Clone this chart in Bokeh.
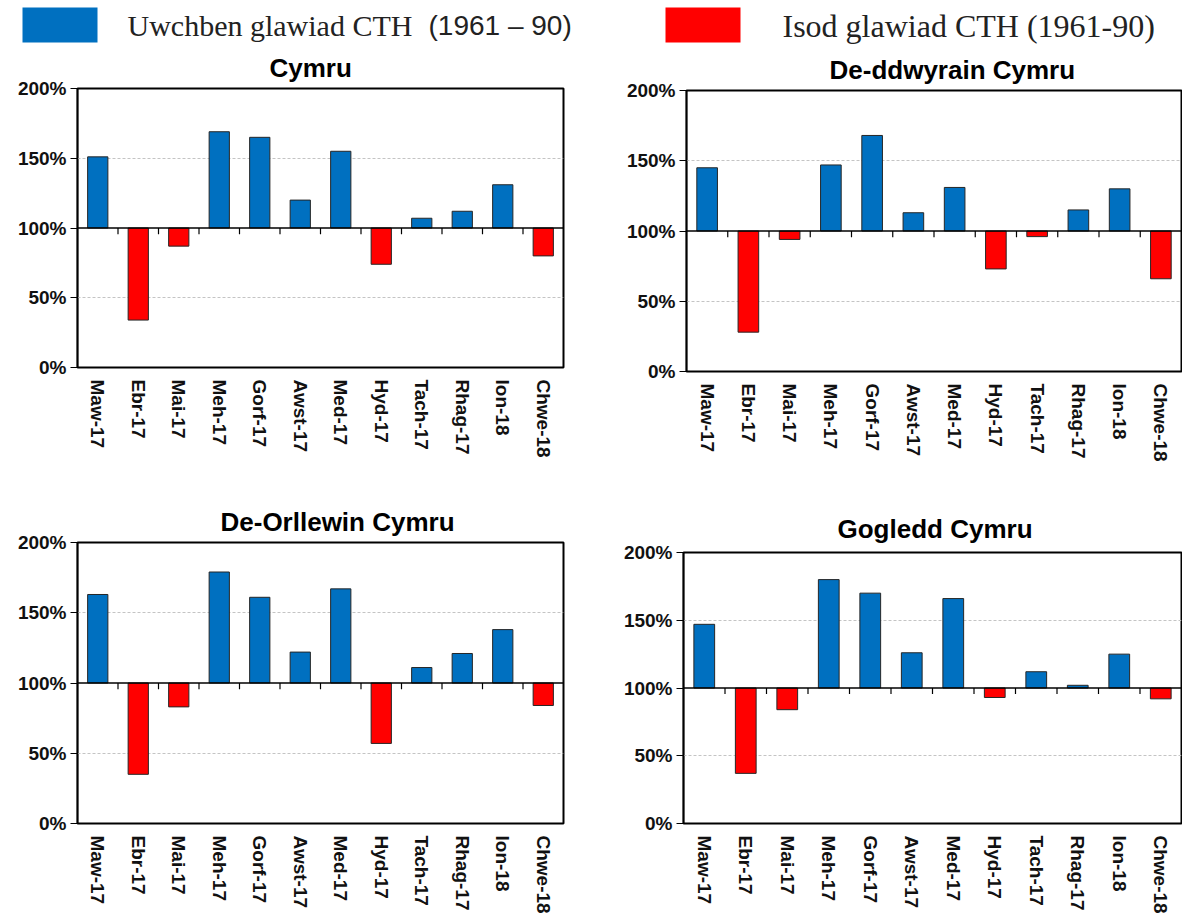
from math import pi
from bokeh.plotting import figure
from bokeh.models import Range1d, FixedTicker, Span, ColumnDataSource, PrintfTickFormatter
from bokeh.layouts import column, row
from bokeh.transform import dodge
from bokeh.core.properties import value
from bokeh.embed import file_html
from bokeh.resources import INLINE

months = ["Maw-17", "Ebr-17", "Mai-17", "Meh-17", "Gorf-17", "Awst-17",
          "Med-17", "Hyd-17", "Tach-17", "Rhag-17", "Ion-18", "Chwe-18"]

cymru = [151, 34, 87, 169, 165, 120, 155, 74, 107, 112, 131, 80]
de_ddwyrain = [145, 28, 94, 147, 168, 113, 131, 73, 96, 115, 130, 66]
de_orllewin = [163, 35, 83, 179, 161, 122, 167, 57, 111, 121, 138, 84]
gogledd = [147, 37, 84, 180, 170, 126, 166, 93, 112, 102, 125, 92]

titles = ["Cymru", "De-ddwyrain Cymru", "De-Orllewin Cymru", "Gogledd Cymru"]
legend_labels = ["Uwchben glawiad CTH", "(1961 \u2013 90)", "Isod glawiad CTH (1961-90)"]
y_ticks = [0, 50, 100, 150, 200]

BLUE = "#0070C0"
RED = "#FF0000"
SANS = "Liberation Sans"
SERIF = "Liberation Serif"


def panel(title, vals, width, height, bl, br, bt, bb, toff=0, tstand=12):
    p = figure(width=width, height=height, x_range=months, y_range=Range1d(0, 200),
               toolbar_location=None, output_backend="svg", title=title,
               min_border_left=bl, min_border_right=br, min_border_top=bt,
               min_border_bottom=bb)
    p.title.align = "left"
    p.title.offset = toff
    p.title.text_font = SANS
    p.title.text_font_style = "bold"
    p.title.text_font_size = "26px"
    p.title.text_color = "#000000"
    p.title.standoff = tstand
    p.outline_line_color = "black"
    p.outline_line_width = 2
    p.outline_line_alpha = 1
    p.background_fill_color = "white"
    p.border_fill_color = "white"

    p.xgrid.grid_line_color = None
    p.ygrid.ticker = FixedTicker(ticks=[50, 150])
    p.ygrid.grid_line_color = "#c4c4c4"
    p.ygrid.grid_line_dash = "3 2"
    p.ygrid.grid_line_width = 1

    p.yaxis.ticker = FixedTicker(ticks=y_ticks)
    p.yaxis.formatter = PrintfTickFormatter(format="%d%%")
    p.yaxis.major_label_text_font = SANS
    p.yaxis.major_label_text_font_style = "bold"
    p.yaxis.major_label_text_font_size = "19px"
    p.yaxis.major_label_text_color = "#111111"
    p.yaxis.major_tick_out = 7
    p.yaxis.major_tick_in = 0
    p.yaxis.minor_tick_line_color = None
    p.yaxis.axis_line_color = "black"
    p.yaxis.axis_line_width = 1.5
    p.yaxis.major_tick_line_color = "black"
    p.yaxis.major_label_standoff = 4

    p.xaxis.major_label_orientation = -pi / 2
    p.xaxis.major_label_text_font = SANS
    p.xaxis.major_label_text_font_style = "bold"
    p.xaxis.major_label_text_font_size = "19px"
    p.xaxis.major_label_text_color = "#111111"
    p.xaxis.major_tick_line_color = None
    p.xaxis.axis_line_color = None
    p.xaxis.major_label_standoff = 6

    colors = [BLUE if v >= 100 else RED for v in vals]
    src = ColumnDataSource(dict(x=months, top=vals, bottom=[100] * len(vals), color=colors))
    p.vbar(x="x", top="top", bottom="bottom", width=0.5, source=src,
           fill_color="color", line_color="#262626", line_width=1)

    p.add_layout(Span(location=100, dimension="width", line_color="black", line_width=1.5))

    tsrc = ColumnDataSource(dict(x=months[:-1]))
    p.segment(x0=dodge("x", 0.5, range=p.x_range), x1=dodge("x", 0.5, range=p.x_range),
              y0=100, y1=95.5, source=tsrc, line_color="black", line_width=1.2)
    return p


# Legend strip
leg = figure(width=1182, height=44, x_range=Range1d(0, 1182), y_range=Range1d(44, 0),
             toolbar_location=None, output_backend="svg", min_border=0)
leg.axis.visible = False
leg.grid.visible = False
leg.outline_line_color = None
leg.quad(left=[22], right=[97], top=[7], bottom=[42], fill_color=BLUE, line_color=None)
leg.quad(left=[665], right=[740], top=[7], bottom=[42], fill_color=RED, line_color=None)
leg.text(x=[127], y=[25], text=[legend_labels[0]], text_font=value(SERIF),
         text_font_size="30px", text_baseline="middle", text_color="#222222")
leg.text(x=[428], y=[25], text=[legend_labels[1]], text_font=value(SANS),
         text_font_size="28px", text_baseline="middle", text_color="#222222")
leg.text(x=[782], y=[25], text=[legend_labels[2]], text_font=value(SERIF),
         text_font_size="32px", text_baseline="middle", text_color="#222222")

p1 = panel(titles[0], cymru, 620, 451, 77, 57, 44, 128, toff=192, tstand=12)
p2 = panel(titles[1], de_ddwyrain, 562, 451, 66, 1, 46, 124, toff=143, tstand=12)
p3 = panel(titles[2], de_orllewin, 620, 421, 77, 57, 47, 90, toff=143, tstand=11)
p4 = panel(titles[3], gogledd, 562, 421, 61, 1, 57, 90, toff=154, tstand=17)

layout = column(leg, row(column(p1), column(p2)), row(column(p3), column(p4)))

open("out.html", "w").write(file_html(layout, INLINE))
